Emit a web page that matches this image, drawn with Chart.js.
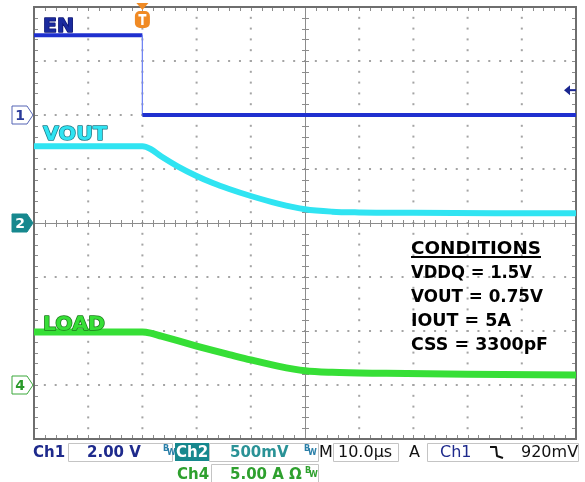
<!DOCTYPE html>
<html lang="en">
<head>
<meta charset="UTF-8">
<title>EN / VOUT / LOAD shutdown</title>
<script src="https://cdn.jsdelivr.net/npm/chart.js"></script>
<style>
  html, body { margin: 0; padding: 0; background: #fff; }
  canvas { display: block; }
</style>
</head>
<body>
<canvas id="scope" width="585" height="482"></canvas>
<script>
// time axis in microseconds relative to the trigger (10 us/div)
const timeMin = -20;
const timeMax = 80;

// Ch1 - EN (volts)
const enTime  = [-20, 0, 0, 80];
const enVolts = [2.95, 2.95, 0, 0];

// Ch2 - VOUT (volts)
const voutTime  = [-20, -10, 0, 1.5, 3.5, 6.5, 9.8, 13, 16, 20, 25, 30, 35, 40, 50, 65, 80];
const voutVolts = [0.71, 0.71, 0.71, 0.685, 0.615, 0.525, 0.44, 0.37, 0.315, 0.25, 0.18, 0.127, 0.105, 0.098, 0.094, 0.091, 0.09];

// Ch4 - LOAD (amps)
const loadTime = [-20, -10, 0, 1.5, 3.5, 6.5, 10, 13, 16, 20, 25, 30, 35, 45, 60, 80];
const loadAmps = [4.9, 4.9, 4.9, 4.8, 4.52, 4.1, 3.6, 3.2, 2.82, 2.32, 1.75, 1.32, 1.17, 1.08, 1.0, 0.93];

// channel setup: units per division, ground marker in divisions from centre
const ch1Scale = 2,   ch1Ground = 2;
const ch2Scale = 0.5, ch2Ground = 0;
const ch4Scale = 5,   ch4Ground = -3;
const triggerLevel = 0.92; // volts on ch1

const traceLabels = ['EN', 'VOUT', 'LOAD'];
const conditions = ['CONDITIONS', 'VDDQ = 1.5V', 'VOUT = 0.75V', 'IOUT = 5A', 'CSS = 3300pF'];

const EN_BLUE = '#1f30cf';
const VOUT_CYAN = '#30e4f2';
const LOAD_GREEN = '#36df36';

function pts(xs, ys) {
    return xs.map((x, i) => ({ x: x, y: ys[i] }));
}

// draw text squeezed/stretched to a given width
function fitText(ctx, text, x, y, width, stroke) {
    const w = ctx.measureText(text).width;
    ctx.save();
    ctx.translate(x, y);
    ctx.scale(width / w, 1);
    if (stroke) ctx.strokeText(text, 0, 0);
    ctx.fillText(text, 0, 0);
    ctx.restore();
}

// scope graticule behind the traces
const graticule = {
    id: 'graticule',
    beforeDatasetsDraw(chart) {
        const ctx = chart.ctx;
        const a = chart.chartArea;
        const dx = (a.right - a.left) / 10;
        const dy = (a.bottom - a.top) / 8;
        const cx = a.left + dx * 5;
        const cy = a.top + dy * 4;
        ctx.save();
        ctx.fillStyle = '#a4a4a4';
        // dotted division lines
        for (let i = 1; i < 10; i++) {
            if (i === 5) continue;
            const x = a.left + dx * i;
            for (let k = 1; k < 40; k++) ctx.fillRect(x - 1, a.top + k * dy / 5 - 1, 2, 2);
        }
        for (let j = 1; j < 8; j++) {
            if (j === 4) continue;
            const y = a.top + dy * j;
            for (let k = 1; k < 50; k++) ctx.fillRect(a.left + k * dx / 5 - 1, y - 1, 2, 2);
        }
        // centre crosshair with minor ticks
        ctx.strokeStyle = '#8c8c8c';
        ctx.lineWidth = 1;
        ctx.beginPath();
        ctx.moveTo(a.left, cy + 0.5); ctx.lineTo(a.right, cy + 0.5);
        ctx.moveTo(cx + 0.5, a.top); ctx.lineTo(cx + 0.5, a.bottom);
        for (let k = 1; k < 50; k++) {
            const x = Math.round(a.left + k * dx / 5) + 0.5;
            ctx.moveTo(x, cy - 3); ctx.lineTo(x, cy + 4);
            ctx.moveTo(x, a.top); ctx.lineTo(x, a.top + 4);
            ctx.moveTo(x, a.bottom); ctx.lineTo(x, a.bottom - 4);
        }
        for (let k = 1; k < 40; k++) {
            const y = Math.round(a.top + k * dy / 5) + 0.5;
            ctx.moveTo(cx - 3, y); ctx.lineTo(cx + 4, y);
            ctx.moveTo(a.left, y); ctx.lineTo(a.left + 4, y);
            ctx.moveTo(a.right, y); ctx.lineTo(a.right - 4, y);
        }
        ctx.stroke();
        // frame
        ctx.strokeStyle = '#6e6e6e';
        ctx.lineWidth = 2;
        ctx.strokeRect(a.left, a.top, a.right - a.left, a.bottom - a.top);
        ctx.restore();
    },
    afterDraw(chart) {
        const ctx = chart.ctx;
        const sx = chart.scales.x;
        ctx.save();
        ctx.lineJoin = 'round';

        // trace labels
        ctx.font = 'bold 20px "DejaVu Sans"';
        ctx.lineWidth = 1.5;
        ctx.fillStyle = '#1a2a9e'; ctx.strokeStyle = '#0c1470';
        fitText(ctx, traceLabels[0], 43, 32, 31, true);
        ctx.fillStyle = VOUT_CYAN; ctx.strokeStyle = '#1b7a88';
        fitText(ctx, traceLabels[1], 43, 140, 64, true);
        ctx.fillStyle = LOAD_GREEN; ctx.strokeStyle = '#1c7a1c';
        fitText(ctx, traceLabels[2], 43, 330, 62, true);

        // conditions block
        ctx.fillStyle = '#000';
        ctx.font = 'bold 18px "DejaVu Sans"';
        const widths = [130, 121, 132, 100, 137];
        conditions.forEach((t, i) => fitText(ctx, t, 411, 254 + i * 24, widths[i], false));
        ctx.fillRect(411, 256, 130, 2);

        // channel ground markers on the left edge
        function marker(y, label, fill, line, textColor) {
            ctx.beginPath();
            ctx.moveTo(12, y - 9); ctx.lineTo(27, y - 9); ctx.lineTo(33, y);
            ctx.lineTo(27, y + 9); ctx.lineTo(12, y + 9); ctx.closePath();
            ctx.fillStyle = fill; ctx.fill();
            ctx.strokeStyle = line; ctx.lineWidth = 1; ctx.stroke();
            ctx.fillStyle = textColor;
            ctx.font = 'bold 14px "DejaVu Sans"';
            ctx.textAlign = 'center';
            ctx.fillText(label, 20, y + 5);
            ctx.textAlign = 'left';
        }
        marker(chart.scales.yEN.getPixelForValue(0), '1', '#fff', '#5565b5', '#2a3a9a');
        marker(chart.scales.yOUT.getPixelForValue(0), '2', '#17888e', '#17888e', '#fff');
        marker(chart.scales.yLOAD.getPixelForValue(0), '4', '#fff', '#3aa83a', '#2a9a2a');

        // trigger position marker
        const tx = sx.getPixelForValue(0);
        ctx.fillStyle = '#f08a24';
        ctx.beginPath();
        ctx.moveTo(tx - 6, 3); ctx.lineTo(tx + 6, 3); ctx.lineTo(tx, 10); ctx.closePath();
        ctx.fill();
        ctx.beginPath();
        ctx.roundRect(tx - 7.5, 11, 15, 17, 5);
        ctx.fill();
        ctx.fillStyle = '#fff';
        ctx.fillRect(tx - 4, 14, 8, 2.5);
        ctx.fillRect(tx - 1.2, 14, 2.4, 11);

        // trigger level arrow on the right edge
        const ty = chart.scales.yEN.getPixelForValue(triggerLevel);
        ctx.strokeStyle = '#1a2690'; ctx.fillStyle = '#1a2690';
        ctx.lineWidth = 2;
        ctx.beginPath();
        ctx.moveTo(569, ty); ctx.lineTo(576, ty); ctx.stroke();
        ctx.beginPath();
        ctx.moveTo(564, ty); ctx.lineTo(570, ty - 5); ctx.lineTo(570, ty + 5); ctx.closePath();
        ctx.fill();

        // status bar
        function box(x, y, w, h) {
            ctx.strokeStyle = '#c4c4c4'; ctx.lineWidth = 1;
            ctx.strokeRect(x + 0.5, y + 0.5, w, h);
        }
        function bw(x, y, color) {
            ctx.fillStyle = color;
            ctx.font = 'bold 8px "DejaVu Sans"';
            ctx.fillText('B', x, y);
            ctx.fillText('W', x + 4, y + 4);
        }
        const r1 = 457, r2 = 479;
        box(68, 443, 104, 18);
        box(209, 443, 109, 18);
        box(333, 443, 65, 18);
        box(427, 443, 151, 18);
        box(211, 464, 107, 18);
        ctx.font = 'bold 15px "DejaVu Sans"';
        ctx.fillStyle = '#1e2a8c';
        ctx.fillText('Ch1', 33, r1);
        ctx.fillText('2.00 V', 87, r1);
        bw(163, 451, '#2a7fa8');
        ctx.fillStyle = '#17888e';
        ctx.fillRect(175, 443, 34, 18);
        ctx.font = 'bold 15px "DejaVu Sans"';
        ctx.fillStyle = '#fff';
        ctx.fillText('Ch2', 176, r1);
        ctx.fillStyle = '#2a9296';
        ctx.fillText('500mV', 230, r1);
        bw(304, 451, '#2a7fa8');
        ctx.font = '16px "DejaVu Sans"';
        ctx.fillStyle = '#111';
        ctx.fillText('M', 319, r1);
        ctx.fillText('10.0\u00b5s', 338, r1);
        ctx.fillText('A', 409, r1);
        ctx.fillText('920mV', 521, r1);
        ctx.fillStyle = '#1e2a8c';
        ctx.fillText('Ch1', 440, r1);
        // falling edge glyph
        ctx.strokeStyle = '#111'; ctx.lineWidth = 2;
        ctx.beginPath();
        ctx.moveTo(490, 447); ctx.lineTo(496, 447); ctx.lineTo(497, 456); ctx.lineTo(503, 458);
        ctx.stroke();
        ctx.font = 'bold 15px "DejaVu Sans"';
        ctx.fillStyle = '#2ea02e';
        ctx.fillText('Ch4', 177, r2);
        ctx.fillText('5.00 A \u03a9', 230, r2);
        bw(305, 473, '#2ea02e');
        ctx.restore();
    }
};

const thinDrop = ctx => (ctx.p0.parsed.x === ctx.p1.parsed.x ? 1 : undefined);

new Chart(document.getElementById('scope'), {
    type: 'line',
    data: {
        datasets: [
            {
                label: 'EN',
                data: pts(enTime, enVolts),
                yAxisID: 'yEN',
                borderColor: EN_BLUE,
                borderWidth: 4,
                tension: 0,
                segment: {
                    borderWidth: thinDrop,
                    borderColor: ctx => (ctx.p0.parsed.x === ctx.p1.parsed.x ? '#7286f2' : undefined)
                }
            },
            {
                label: 'VOUT',
                data: pts(voutTime, voutVolts),
                yAxisID: 'yOUT',
                borderColor: VOUT_CYAN,
                borderWidth: 6,
                cubicInterpolationMode: 'monotone'
            },
            {
                label: 'LOAD',
                data: pts(loadTime, loadAmps),
                yAxisID: 'yLOAD',
                borderColor: LOAD_GREEN,
                borderWidth: 7,
                cubicInterpolationMode: 'monotone'
            }
        ]
    },
    options: {
        responsive: false,
        animation: false,
        devicePixelRatio: 1,
        layout: { padding: { left: 34, right: 9, top: 7, bottom: 43 } },
        elements: { point: { radius: 0 }, line: { borderCapStyle: 'butt' } },
        plugins: { legend: { display: false }, tooltip: { enabled: false } },
        scales: {
            x: { type: 'linear', min: timeMin, max: timeMax, display: false },
            yEN: { min: (-4 - ch1Ground) * ch1Scale, max: (4 - ch1Ground) * ch1Scale, display: false },
            yOUT: { min: (-4 - ch2Ground) * ch2Scale, max: (4 - ch2Ground) * ch2Scale, display: false },
            yLOAD: { min: (-4 - ch4Ground) * ch4Scale, max: (4 - ch4Ground) * ch4Scale, display: false }
        }
    },
    plugins: [graticule]
});
</script>
</body>
</html>
